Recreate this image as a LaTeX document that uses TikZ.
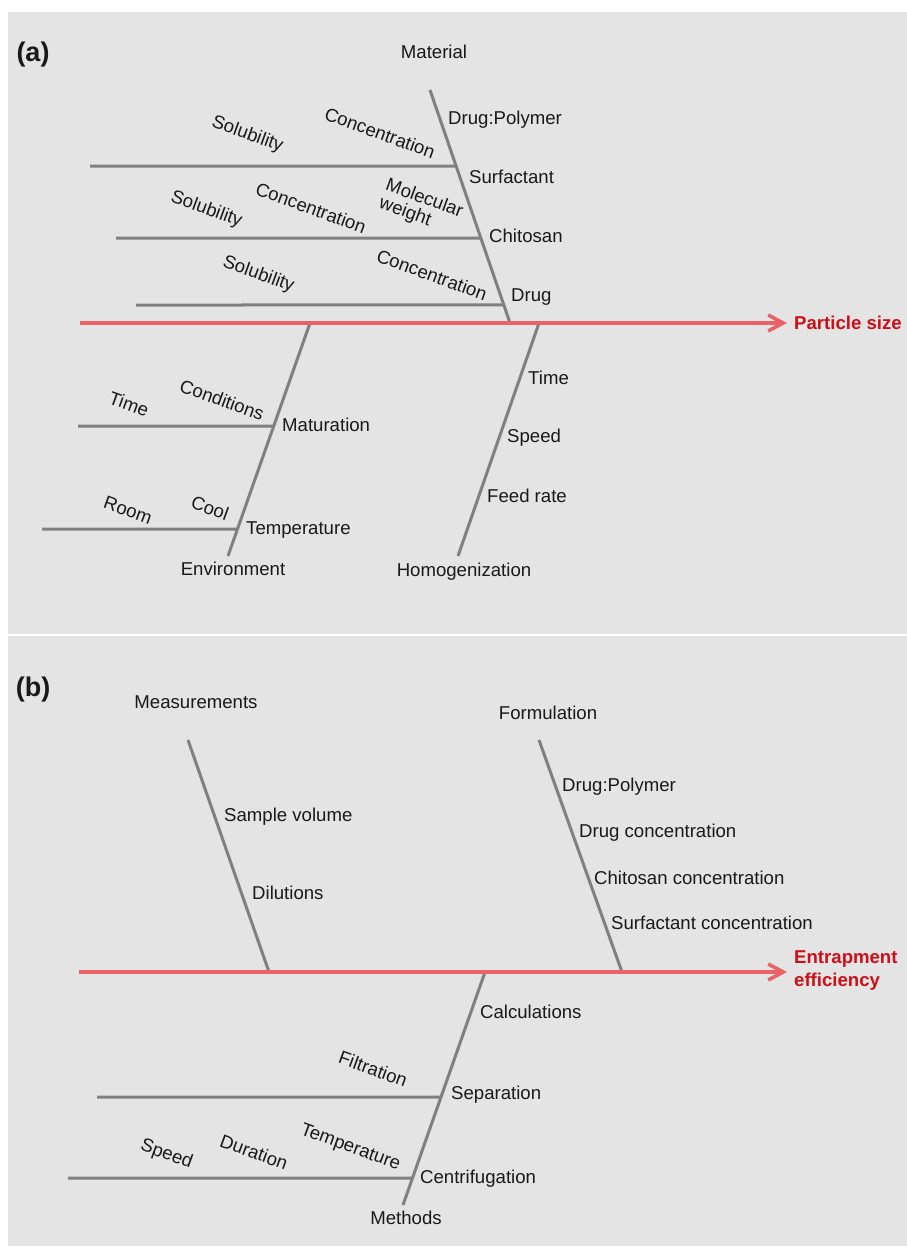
\documentclass[tikz,border=0pt]{standalone}
\usepackage{fontspec}
\setmainfont{Liberation Sans}
\usepackage{tikz}
\usetikzlibrary{arrows.meta, calc}
\definecolor{panelFill}{RGB}{228,228,228}
\definecolor{boneLine}{RGB}{128,128,128}
\definecolor{spineLine}{RGB}{232,98,104}
\definecolor{effectInk}{RGB}{206,14,24}
\definecolor{ink}{RGB}{25,25,25}
\tikzset{
  panel/.style={fill=panelFill, draw=none},
  bone/.style={draw=boneLine, line width=3pt},
  spine/.style={
    draw=spineLine,
    line width=3.6pt,
    -{Straight Barb[length=15pt,width=16pt]}
  },
  causeText/.style={
    font=\fontsize{18.6}{21}\selectfont,
    text=ink,
    inner sep=0pt,
    text height=13pt,
    text depth=0pt
  },
  cause/.style={causeText, anchor=center},
  factor/.style={causeText, anchor=west},
  detail/.style={causeText, anchor=center, rotate=-20},
  detailPair/.style={
    font=\fontsize{18.6}{19}\selectfont,
    text=ink,
    inner sep=0pt,
    align=left,
    rotate=-20
  },
  effect/.style={
    font=\bfseries\fontsize{18.6}{23}\selectfont,
    text=effectInk,
    inner sep=0pt,
    anchor=west,
    align=left
  },
  panelTag/.style={font=\bfseries\fontsize{27}{30}\selectfont, text=ink, inner sep=0pt}
}

\begin{document}
\begin{tikzpicture}[x=1pt, y=-1pt]
  \useasboundingbox (0,0) rectangle (907,1247);
  \fill[white] (0,0) rectangle (907,1247);
  \path[panel] (8,12) rectangle (907,634);
  \path[panel] (8,636) rectangle (907,1246);

  % (a) particle size
  \coordinate (spineAStart) at (80,323);
  \coordinate (spineAEnd) at (787,323);
  \coordinate (materialTip) at (430,90);
  \coordinate (materialFoot) at (510,323);
  \coordinate (environmentFoot) at (310,323);
  \coordinate (environmentTip) at (228,556);
  \coordinate (homogenFoot) at (539,323);
  \coordinate (homogenTip) at (458,556);
  \coordinate (surfactantJoin) at ($(materialTip)!0.3262!(materialFoot)$);
  \coordinate (chitosanJoin) at ($(materialTip)!0.6352!(materialFoot)$);
  \coordinate (drugJoin) at ($(materialTip)!0.9227!(materialFoot)$);
  \coordinate (maturationJoin) at ($(environmentFoot)!0.4421!(environmentTip)$);
  \coordinate (temperatureJoin) at ($(environmentFoot)!0.8841!(environmentTip)$);
  \coordinate (surfactantEnd) at (90,166);
  \coordinate (chitosanEnd) at (116,238);
  \coordinate (drugEnd) at (136,305);
  \coordinate (maturationEnd) at (78,426);
  \coordinate (temperatureEnd) at (42,529);

  \node[panelTag] (tagA) at (33,55) {(a)};
  \node[cause] (material) at (434,52) {Material};
  \node[factor] (drugPolymerA) at (448,118) {Drug:Polymer};
  \node[factor] (surfactant) at (469,177) {Surfactant};
  \node[factor] (chitosan) at (489,236) {Chitosan};
  \node[factor] (drug) at (511,295) {Drug};
  \node[detail] (solubilitySurf) at (248,133) {Solubility};
  \node[detail] (concSurf) at (380,133) {Concentration};
  \node[detail] (solubilityChit) at (207,208) {Solubility};
  \node[detail] (concChit) at (311,208) {Concentration};
  \node[detailPair] (molWeight) at (421,208) {Molecular\\weight};
  \node[detail] (solubilityDrug) at (259,273) {Solubility};
  \node[detail] (concDrug) at (432,275) {Concentration};
  \node[cause] (environment) at (233,569) {Environment};
  \node[factor] (maturation) at (282,425) {Maturation};
  \node[factor] (temperatureA) at (246,528) {Temperature};
  \node[detail] (timeMat) at (129,404) {Time};
  \node[detail] (conditions) at (222,400) {Conditions};
  \node[detail] (room) at (128,510) {Room};
  \node[detail] (cool) at (210,508) {Cool};
  \node[cause] (homogenization) at (464,570) {Homogenization};
  \node[factor] (timeHom) at (528,378) {Time};
  \node[factor] (speedHom) at (507,436) {Speed};
  \node[factor] (feedRate) at (487,496) {Feed rate};
  \node[effect] (particleSize) at (794,323) {Particle size};

  \draw[bone] (materialTip) -- (materialFoot);
  \draw[bone] (surfactantEnd) -- (surfactantJoin);
  \draw[bone] (chitosanEnd) -- (chitosanJoin);
  \draw[bone] (drugEnd) -- (drugJoin);
  \draw[bone] (environmentFoot) -- (environmentTip);
  \draw[bone] (maturationEnd) -- (maturationJoin);
  \draw[bone] (temperatureEnd) -- (temperatureJoin);
  \draw[bone] (homogenFoot) -- (homogenTip);
  \draw[spine] (spineAStart) -- (spineAEnd);

  % (b) entrapment efficiency
  \coordinate (spineBStart) at (79,972);
  \coordinate (spineBEnd) at (787,972);
  \coordinate (measureTip) at (188,740);
  \coordinate (measureFoot) at (269,972);
  \coordinate (formulaTip) at (539,740);
  \coordinate (formulaFoot) at (622,972);
  \coordinate (methodsFoot) at (485,972);
  \coordinate (methodsTip) at (403,1205);
  \coordinate (separationJoin) at ($(methodsFoot)!0.5365!(methodsTip)$);
  \coordinate (centrifugeJoin) at ($(methodsFoot)!0.8841!(methodsTip)$);
  \coordinate (separationEnd) at (97,1097);
  \coordinate (centrifugeEnd) at (68,1178);

  \node[panelTag] (tagB) at (33,690) {(b)};
  \node[cause] (measurements) at (196,702) {Measurements};
  \node[factor] (sampleVolume) at (224,815) {Sample volume};
  \node[factor] (dilutions) at (252,893) {Dilutions};
  \node[cause] (formulation) at (548,713) {Formulation};
  \node[factor] (drugPolymerB) at (562,785) {Drug:Polymer};
  \node[factor] (drugConc) at (579,831) {Drug concentration};
  \node[factor] (chitosanConc) at (594,878) {Chitosan concentration};
  \node[factor] (surfactantConc) at (611,923) {Surfactant concentration};
  \node[cause] (methods) at (406,1218) {Methods};
  \node[factor] (calculations) at (480,1012) {Calculations};
  \node[factor] (separation) at (451,1093) {Separation};
  \node[factor] (centrifugation) at (420,1177) {Centrifugation};
  \node[detail] (filtration) at (373,1069) {Filtration};
  \node[detail] (speedCen) at (167,1153) {Speed};
  \node[detail] (duration) at (254,1152) {Duration};
  \node[detail] (temperatureB) at (351,1146) {Temperature};
  \node[effect] (entrapment) at (794,971) {Entrapment\\efficiency};

  \draw[bone] (measureTip) -- (measureFoot);
  \draw[bone] (formulaTip) -- (formulaFoot);
  \draw[bone] (methodsFoot) -- (methodsTip);
  \draw[bone] (separationEnd) -- (separationJoin);
  \draw[bone] (centrifugeEnd) -- (centrifugeJoin);
  \draw[spine] (spineBStart) -- (spineBEnd);
\end{tikzpicture}
\end{document}
